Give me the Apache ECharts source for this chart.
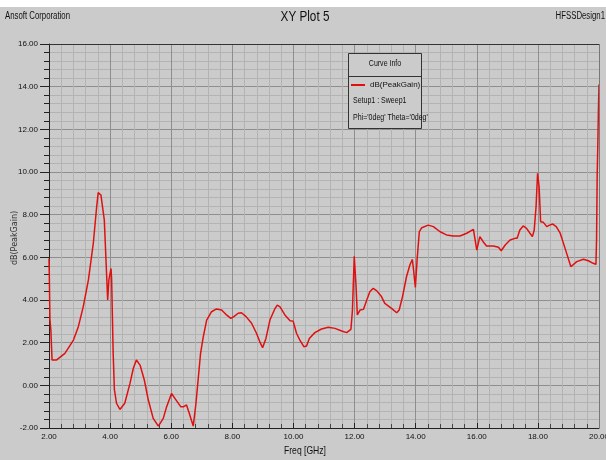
<!DOCTYPE html>
<html>
<head>
<meta charset="utf-8">
<style>
  html, body { margin: 0; padding: 0; background: #ffffff; }
  #chart { width: 606px; height: 460px; }
</style>
<script src="https://cdn.jsdelivr.net/npm/echarts@6/dist/echarts.min.js"></script>
</head>
<body>
<div id="chart"></div>
<script>
// Peak gain sweep (dB) against frequency (GHz)
const freqGHz = [
  2.00, 2.01, 2.03, 2.06, 2.10, 2.25, 2.52, 2.80, 2.96, 3.12, 3.29, 3.45, 3.56, 3.61, 3.70, 3.81,
  3.92, 3.96, 4.03, 4.05, 4.10, 4.14, 4.21, 4.32, 4.48, 4.65, 4.76, 4.86, 4.98, 5.12, 5.25, 5.41,
  5.58, 5.74, 5.85, 6.01, 6.12, 6.31, 6.41, 6.50, 6.59, 6.72, 6.81, 6.89, 6.96, 7.05, 7.16, 7.32,
  7.48, 7.65, 7.81, 7.95, 8.05, 8.19, 8.30, 8.45, 8.63, 8.79, 8.90, 8.99, 9.10, 9.23, 9.40, 9.47,
  9.56, 9.72, 9.89, 9.99, 10.10, 10.21, 10.34, 10.43, 10.52, 10.70, 10.92, 11.14, 11.36, 11.58, 11.74, 11.88,
  11.93, 11.99, 12.05, 12.09, 12.18, 12.29, 12.40, 12.50, 12.61, 12.72, 12.88, 12.99, 13.21, 13.38, 13.46, 13.57,
  13.70, 13.81, 13.89, 13.92, 13.99, 14.05, 14.12, 14.20, 14.41, 14.58, 14.80, 15.01, 15.23, 15.45, 15.67, 15.89,
  16.00, 16.10, 16.21, 16.32, 16.54, 16.71, 16.80, 16.93, 17.09, 17.25, 17.32, 17.41, 17.52, 17.63, 17.74, 17.82,
  17.88, 17.94, 17.99, 18.04, 18.09, 18.18, 18.29, 18.38, 18.49, 18.60, 18.73, 18.89, 19.08, 19.27, 19.49, 19.65,
  19.81, 19.90, 19.92, 19.94, 19.96, 19.98, 20.00
];
const peakGainDb = [
  5.95, 5.20, 3.10, 2.60, 1.19, 1.19, 1.50, 2.12, 2.75, 3.68, 4.94, 6.66, 8.37, 9.03, 8.92, 7.75,
  4.00, 4.94, 5.48, 4.94, 1.51, -0.20, -0.84, -1.13, -0.84, 0.09, 0.80, 1.19, 0.95, 0.25, -0.69, -1.55,
  -1.91, -1.55, -1.00, -0.38, -0.61, -1.00, -1.00, -0.92, -1.31, -1.91, -0.84, 0.40, 1.50, 2.28, 3.06, 3.45,
  3.58, 3.53, 3.30, 3.14, 3.22, 3.38, 3.40, 3.22, 2.91, 2.44, 2.04, 1.76, 2.20, 3.06, 3.61, 3.76,
  3.68, 3.30, 3.03, 3.01, 2.44, 2.12, 1.81, 1.84, 2.20, 2.47, 2.64, 2.72, 2.67, 2.55, 2.47, 2.62,
  3.50, 6.05, 4.62, 3.30, 3.53, 3.56, 4.00, 4.39, 4.55, 4.44, 4.16, 3.84, 3.61, 3.40, 3.53, 4.16,
  5.09, 5.64, 5.90, 5.56, 4.59, 5.95, 7.20, 7.39, 7.51, 7.44, 7.20, 7.05, 7.00, 7.00, 7.13, 7.31,
  6.34, 6.97, 6.73, 6.53, 6.53, 6.47, 6.31, 6.58, 6.81, 6.89, 6.89, 7.28, 7.47, 7.36, 7.13, 6.97,
  7.28, 8.37, 9.94, 9.31, 7.67, 7.64, 7.44, 7.51, 7.56, 7.44, 7.13, 6.42, 5.56, 5.80, 5.91, 5.84,
  5.72, 5.67, 6.81, 9.78, 11.19, 12.80, 14.10
];

const plotTitle = 'XY Plot 5';
const companyText = 'Ansoft Corporation';
const designText = 'HFSSDesign1';
const xAxisName = 'Freq [GHz]';
const yAxisName = 'dB(PeakGain)';
const seriesName = 'dB(PeakGain)';
const infoHeader = 'Curve Info';
const infoLines = ['Setup1 : Sweep1', "Phi='0deg' Theta='0deg'"];

const FONT = "'Liberation Sans Narrow', 'Arial Narrow', 'Liberation Sans', sans-serif";
const BG = '#cbcbcb';
const CURVE = '#e01010';

// condensed text helper: plain text squeezed horizontally
function narrowText(str, x, y, size, align, extra) {
  return Object.assign({
    type: 'text', x: x, y: y, scaleX: 0.78, scaleY: 1, z: 30,
    style: { text: str, fontFamily: FONT, fontSize: size, fill: '#111',
      textAlign: align, textVerticalAlign: 'middle' }
  }, extra || {});
}

const chart = echarts.init(document.getElementById('chart'), null, { renderer: 'canvas' });

const option = {
  backgroundColor: BG,
  animation: false,
  textStyle: { fontFamily: FONT },
  grid: { left: 49, right: 7, top: 44, bottom: 32, show: false,
    containLabel: false, outerBoundsMode: 'none' },
  xAxis: {
    type: 'value', min: 2, max: 20, interval: 2,
    axisLine: { show: true, onZero: false, lineStyle: { color: '#222', width: 1 } },
    axisTick: { show: true, inside: true, length: 5, lineStyle: { color: '#222' } },
    minorTick: { show: true, splitNumber: 5, length: 4, lineStyle: { color: '#444' } },
    axisLabel: { fontFamily: FONT, fontSize: 8, color: '#111', margin: 5,
      formatter: v => v.toFixed(2) },
    splitLine: { show: true, lineStyle: { color: '#8e8e8e', width: 1 } },
    minorSplitLine: { show: true, lineStyle: { color: '#b3b3b3', width: 1 } }
  },
  yAxis: {
    type: 'value', min: -2, max: 16, interval: 2,
    axisLine: { show: true, onZero: false, lineStyle: { color: '#222', width: 1 } },
    axisTick: { show: true, length: 9, lineStyle: { color: '#222' } },
    minorTick: { show: true, splitNumber: 5, length: 5, lineStyle: { color: '#222' } },
    axisLabel: { fontFamily: FONT, fontSize: 8, color: '#111', margin: 11,
      formatter: v => v.toFixed(2) },
    splitLine: { show: true, lineStyle: { color: '#8e8e8e', width: 1 } },
    minorSplitLine: { show: true, lineStyle: { color: '#b3b3b3', width: 1 } }
  },
  legend: {
    show: true, left: 351, top: 81, itemWidth: 14, itemHeight: 2, itemGap: 4,
    icon: 'rect', z: 40, padding: 0,
    textStyle: { fontFamily: FONT, fontSize: 8, color: '#111' },
    data: [seriesName]
  },
  graphic: [
    // white strip along the top edge
    { type: 'rect', left: 0, top: 0, shape: { width: 606, height: 7 },
      style: { fill: '#ffffff' }, z: 100 },
    // header texts
    narrowText(plotTitle, 305, 17, 15, 'center'),
    narrowText(companyText, 5, 16, 10, 'left'),
    narrowText(designText, 605, 16, 10, 'right'),
    // axis titles
    narrowText(xAxisName, 305, 451, 11, 'center'),
    { type: 'text', x: 15, y: 238, rotation: Math.PI / 2, z: 30,
      style: { text: yAxisName, fontFamily: "'DejaVu Sans', sans-serif", fontSize: 8,
        fill: '#333', textAlign: 'center', textVerticalAlign: 'middle' } },
    // top and right frame of the plot area
    { type: 'line', shape: { x1: 599.5, y1: 44, x2: 599.5, y2: 428 },
      style: { stroke: '#777', lineWidth: 1 }, z: 5 },
    { type: 'line', shape: { x1: 49, y1: 44.5, x2: 599, y2: 44.5 },
      style: { stroke: '#333', lineWidth: 1 }, z: 5 },
    // curve info box
    { type: 'rect', shape: { x: 348.5, y: 53.5, width: 73, height: 75 },
      style: { fill: BG, stroke: '#333', lineWidth: 1 }, z: 10 },
    { type: 'line', shape: { x1: 348.5, y1: 76.5, x2: 421.5, y2: 76.5 },
      style: { stroke: '#333', lineWidth: 1 }, z: 11 },
    narrowText(infoHeader, 385, 64, 9, 'center'),
    narrowText(infoLines[0], 353, 101, 9, 'left'),
    narrowText(infoLines[1], 353, 118, 9, 'left')
  ],
  series: [{
    name: seriesName,
    type: 'line',
    data: freqGHz.map((f, i) => [f, peakGainDb[i]]),
    showSymbol: false,
    symbol: 'none',
    lineStyle: { color: CURVE, width: 1.5 },
    itemStyle: { color: CURVE },
    z: 3
  }]
};

chart.setOption(option);
</script>
</body>
</html>
